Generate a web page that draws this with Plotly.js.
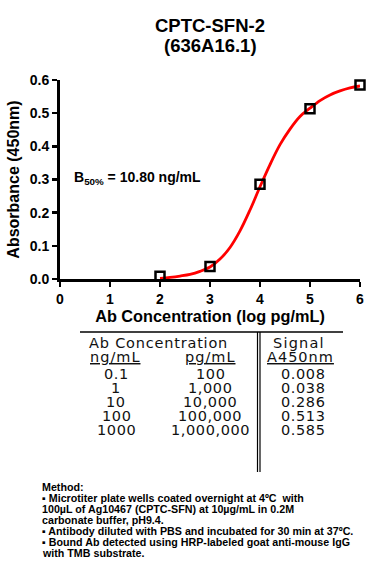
<!DOCTYPE html>
<html>
<head>
<meta charset="utf-8">
<script src="https://cdn.plot.ly/plotly-3.0.1.min.js"></script>
<style>
html,body{margin:0;padding:0;background:#fff;}
#chart{width:380px;height:580px;}
</style>
</head>
<body>
<div id="chart"></div>
<script>
// ---- data ----
const titleLines = ['CPTC-SFN-2', '(636A16.1)'];
const logConc = [2, 3, 4, 5, 6];
const signal = [0.008, 0.038, 0.286, 0.513, 0.585];
const ngml = ['0.1', '1', '10', '100', '1000'];
const pgml = ['100', '1,000', '10,000', '100,000', '1,000,000'];
const signalLabels = ['0.008', '0.038', '0.286', '0.513', '0.585'];
// fitted curve
const fitX = [2.0, 2.2, 2.4, 2.6, 2.8, 3.0, 3.2, 3.4, 3.6, 3.8, 4.0, 4.2, 4.4, 4.6, 4.8, 5.0, 5.2, 5.4, 5.6, 5.8, 6.0];
const fitY = [0.002, 0.005, 0.009, 0.014, 0.023, 0.036, 0.060, 0.095, 0.145, 0.208, 0.278, 0.345, 0.405, 0.452, 0.490, 0.515, 0.538, 0.555, 0.567, 0.576, 0.582];
const xTicks = [0, 1, 2, 3, 4, 5, 6];
const yTicks = [0, 0.1, 0.2, 0.3, 0.4, 0.5, 0.6];
const b50Label = 'B<sub>50%</sub> = 10.80 ng/mL';
const methodLines = [
  'Method:',
  '▪ Microtiter plate wells coated overnight at 4ºC  with',
  '100µL of Ag10467 (CPTC-SFN) at 10µg/mL in 0.2M',
  'carbonate buffer, pH9.4.',
  '▪ Antibody diluted with PBS and incubated for 30 min at 37ºC.',
  '▪ Bound Ab detected using HRP-labeled goat anti-mouse IgG',
  'with TMB substrate.'
];

// ---- layout geometry (pixels) ----
const L = 60, R = 20, T = 80, B = 301, W = 380, H = 580;
const PW = W - L - R, PH = H - T - B;
const px = x => (x - L) / PW;
const py = y => (H - B - y) / PH;

const boldFont = 'Liberation Sans, Arial, sans-serif';
const tableFont = 'DejaVu Sans, Verdana, sans-serif';

const annotations = [];
function ann(text, x, y, size, family, opts) {
  annotations.push(Object.assign({
    text: text, xref: 'paper', yref: 'paper', x: px(x), y: py(y),
    xanchor: 'center', yanchor: 'middle', showarrow: false, borderpad: 0,
    font: {family: family, size: size, color: '#000'}
  }, opts || {}));
}
const spaced = (t, s) => '<span style="letter-spacing:' + s + 'px">' + t + '</span>';

// title
ann('<b>' + titleLines[0] + '</b>', 210, 26, 18.5, boldFont);
ann('<b>' + titleLines[1] + '</b>', 210, 46, 18.5, boldFont);
// B50 label
ann('<b>' + b50Label + '</b>', 73, 178, 14, boldFont, {xanchor: 'left'});

// table
const tf = 14.5, tc = '#111';
ann(spaced('Ab Concentration', 0.8), 158, 343, tf, tableFont, {font: {family: tableFont, size: tf, color: tc}});
ann(spaced('Signal', 1.2), 299, 343, tf, tableFont, {font: {family: tableFont, size: tf, color: tc}});
ann('<u>' + spaced('ng/mL', 1) + '</u>', 115, 356.5, tf, tableFont, {font: {family: tableFont, size: tf, color: tc}});
ann('<u>' + spaced('pg/mL', 1) + '</u>', 210, 356.5, tf, tableFont, {font: {family: tableFont, size: tf, color: tc}});
ann('<u>' + spaced('A450nm', 1) + '</u>', 300, 356.5, tf, tableFont, {font: {family: tableFont, size: tf, color: tc}});
for (let i = 0; i < ngml.length; i++) {
  const y = 373.5 + i * 14.2;
  const f = {font: {family: tableFont, size: tf, color: tc}};
  ann(spaced(ngml[i], 0.6), 116, y, tf, tableFont, f);
  ann(spaced(pgml[i], 0.6), 210, y, tf, tableFont, f);
  ann(spaced(signalLabels[i], 0.6), 303, y, tf, tableFont, f);
}

// method
for (let i = 0; i < methodLines.length; i++) {
  ann('<b>' + methodLines[i] + '</b>', 41, 486.5 + i * 11, 10.7, boldFont, {xanchor: 'left'});
}

const shapes = [
  {type: 'line', xref: 'paper', yref: 'paper', x0: px(80), x1: px(343), y0: py(332), y1: py(332), line: {color: '#000', width: 1.3}},
  {type: 'line', xref: 'paper', yref: 'paper', x0: px(257.5), x1: px(257.5), y0: py(332), y1: py(472), line: {color: '#000', width: 1.2}},
  {type: 'line', xref: 'paper', yref: 'paper', x0: px(260), x1: px(260), y0: py(332), y1: py(472), line: {color: '#000', width: 1.2}}
];

const traces = [
  {x: fitX, y: fitY, type: 'scatter', mode: 'lines', line: {color: '#ff0000', width: 2.8, shape: 'spline'}, cliponaxis: false, hoverinfo: 'skip'},
  {x: logConc, y: signal, type: 'scatter', mode: 'markers', cliponaxis: false,
   marker: {symbol: 'square-open', size: 9, color: '#000', line: {color: '#000', width: 2.5}}}
];

const axisCommon = {
  showline: true, linewidth: 3, linecolor: '#000', showgrid: false, zeroline: false,
  ticks: 'outside', ticklen: 5, tickwidth: 2.5, tickcolor: '#000',
  tickfont: {family: boldFont, size: 14, color: '#000', weight: 'bold'}
};

const layout = {
  width: W, height: H, margin: {l: L, r: R, t: T, b: B, pad: 0},
  paper_bgcolor: '#fff', plot_bgcolor: '#fff', showlegend: false,
  font: {family: boldFont, color: '#000'},
  xaxis: Object.assign({}, axisCommon, {
    range: [0, 6], tickvals: xTicks, ticktext: xTicks.map(String), fixedrange: true,
    title: {text: '<b>Ab Concentration (log pg/mL)</b>', font: {family: boldFont, size: 16.3, color: '#000'}, standoff: 5}
  }),
  yaxis: Object.assign({}, axisCommon, {
    range: [0, 0.6], tickvals: yTicks, ticktext: yTicks.map(v => v.toFixed(1)), fixedrange: true,
    title: {text: '<b>Absorbance (450nm)</b>', font: {family: boldFont, size: 16, color: '#000'}, standoff: 7}
  }),
  annotations: annotations,
  shapes: shapes
};

Plotly.newPlot('chart', traces, layout, {staticPlot: true, displayModeBar: false});
</script>
</body>
</html>
